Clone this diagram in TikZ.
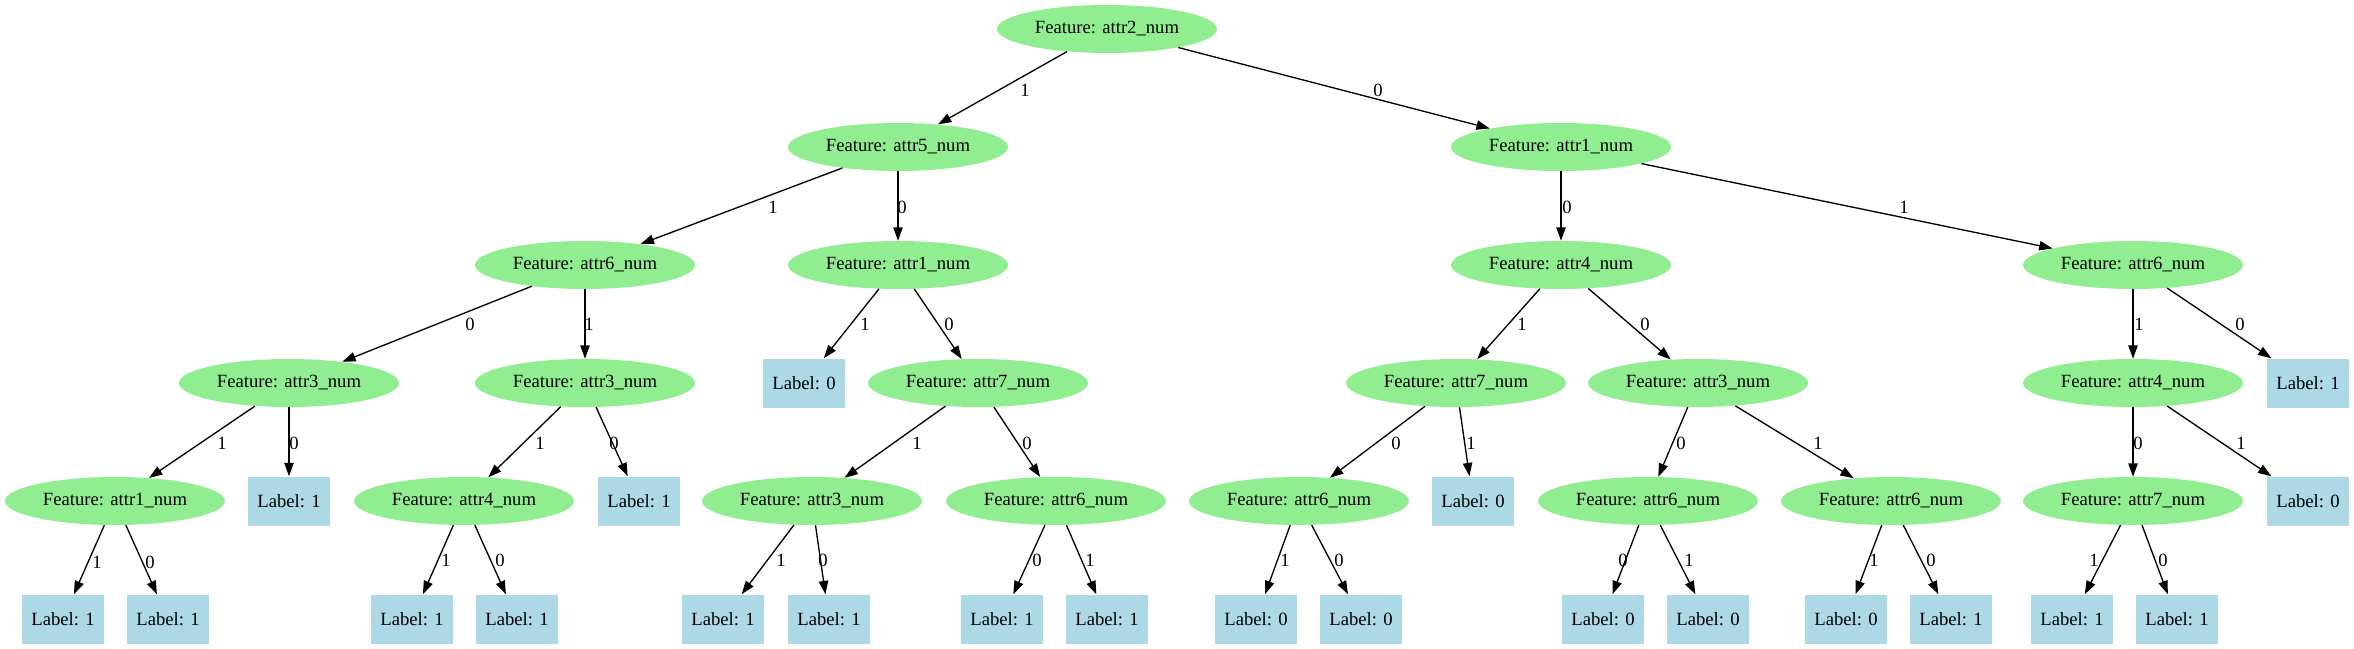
\documentclass[tikz,border=0pt]{standalone}
\usepackage{fontspec}
\setmainfont{Liberation Serif}
\usetikzlibrary{arrows.meta,shapes.geometric}
\definecolor{featgreen}{HTML}{90EE90}
\definecolor{leafblue}{HTML}{ADD8E6}
\begin{document}
\begin{tikzpicture}[x=0.75pt,y=-0.75pt,
  feat/.style={ellipse, fill=featgreen, minimum width=165pt, minimum height=36pt, inner sep=0pt, font=\fontsize{14}{16}\selectfont},
  leaf/.style={rectangle, fill=leafblue, minimum width=61.5pt, minimum height=36.75pt, inner sep=0pt, font=\fontsize{14}{16}\selectfont},
  lbl/.style={inner sep=0pt, font=\fontsize{14}{16}\selectfont},
  edge/.style={-{Triangle[length=10pt,width=7pt]}, line width=1pt}]
\useasboundingbox (0,0) rectangle (2354,649);
% level 0
\node[feat] (root) at (1107,29) {Feature: attr2\_num};
% level 1
\node[feat] (a5) at (898,147) {Feature: attr5\_num};
\node[feat] (a1R) at (1561,147) {Feature: attr1\_num};
% level 2
\node[feat] (a6L) at (585,265) {Feature: attr6\_num};
\node[feat] (a1M) at (898,265) {Feature: attr1\_num};
\node[feat] (a4R) at (1561,265) {Feature: attr4\_num};
\node[feat] (a6R) at (2133,265) {Feature: attr6\_num};
% level 3
\node[feat] (a3L) at (289,383) {Feature: attr3\_num};
\node[feat] (a3b) at (585,383) {Feature: attr3\_num};
\node[leaf] (L0a) at (804,383) {Label: 0};
\node[feat] (a7M) at (978,383) {Feature: attr7\_num};
\node[feat] (a7R) at (1456,383) {Feature: attr7\_num};
\node[feat] (a3R) at (1698,383) {Feature: attr3\_num};
\node[feat] (a4RR) at (2133,383) {Feature: attr4\_num};
\node[leaf] (L1r) at (2308,383) {Label: 1};
% level 4
\node[feat] (a1) at (115,501) {Feature: attr1\_num};
\node[leaf] (L1b) at (289,501) {Label: 1};
\node[feat] (a4) at (464,501) {Feature: attr4\_num};
\node[leaf] (L1c) at (639,501) {Label: 1};
\node[feat] (a3) at (812,501) {Feature: attr3\_num};
\node[feat] (a6) at (1056,501) {Feature: attr6\_num};
\node[feat] (a6b) at (1299,501) {Feature: attr6\_num};
\node[leaf] (L0b) at (1473,501) {Label: 0};
\node[feat] (a6c) at (1648,501) {Feature: attr6\_num};
\node[feat] (a6d) at (1891,501) {Feature: attr6\_num};
\node[feat] (a7) at (2133,501) {Feature: attr7\_num};
\node[leaf] (L0c) at (2308,501) {Label: 0};
% level 5
\node[leaf] (b1) at (63,619) {Label: 1};
\node[leaf] (b2) at (168,619) {Label: 1};
\node[leaf] (b3) at (412,619) {Label: 1};
\node[leaf] (b4) at (517,619) {Label: 1};
\node[leaf] (b5) at (723,619) {Label: 1};
\node[leaf] (b6) at (829,619) {Label: 1};
\node[leaf] (b7) at (1002,619) {Label: 1};
\node[leaf] (b8) at (1107,619) {Label: 1};
\node[leaf] (b9) at (1256,619) {Label: 0};
\node[leaf] (b10) at (1361,619) {Label: 0};
\node[leaf] (b11) at (1603,619) {Label: 0};
\node[leaf] (b12) at (1708,619) {Label: 0};
\node[leaf] (b13) at (1846,619) {Label: 0};
\node[leaf] (b14) at (1951,619) {Label: 1};
\node[leaf] (b15) at (2072,619) {Label: 1};
\node[leaf] (b16) at (2177,619) {Label: 1};
% edges
\draw[edge] (root) -- (a5);
\draw[edge] (root) -- (a1R);
\draw[edge] (a5) -- (a6L);
\draw[edge] (a5) -- (a1M);
\draw[edge] (a1R) -- (a4R);
\draw[edge] (a1R) -- (a6R);
\draw[edge] (a6L) -- (a3L);
\draw[edge] (a6L) -- (a3b);
\draw[edge] (a1M) -- (L0a);
\draw[edge] (a1M) -- (a7M);
\draw[edge] (a4R) -- (a7R);
\draw[edge] (a4R) -- (a3R);
\draw[edge] (a6R) -- (a4RR);
\draw[edge] (a6R) -- (L1r);
\draw[edge] (a3L) -- (a1);
\draw[edge] (a3L) -- (L1b);
\draw[edge] (a3b) -- (a4);
\draw[edge] (a3b) -- (L1c);
\draw[edge] (a7M) -- (a3);
\draw[edge] (a7M) -- (a6);
\draw[edge] (a7R) -- (a6b);
\draw[edge] (a7R) -- (L0b);
\draw[edge] (a3R) -- (a6c);
\draw[edge] (a3R) -- (a6d);
\draw[edge] (a4RR) -- (a7);
\draw[edge] (a4RR) -- (L0c);
\draw[edge] (a1) -- (b1);
\draw[edge] (a1) -- (b2);
\draw[edge] (a4) -- (b3);
\draw[edge] (a4) -- (b4);
\draw[edge] (a3) -- (b5);
\draw[edge] (a3) -- (b6);
\draw[edge] (a6) -- (b7);
\draw[edge] (a6) -- (b8);
\draw[edge] (a6b) -- (b9);
\draw[edge] (a6b) -- (b10);
\draw[edge] (a6c) -- (b11);
\draw[edge] (a6c) -- (b12);
\draw[edge] (a6d) -- (b13);
\draw[edge] (a6d) -- (b14);
\draw[edge] (a7) -- (b15);
\draw[edge] (a7) -- (b16);
% edge labels
\node[lbl] (e1) at (1025,90) {1};
\node[lbl] (e2) at (1378,90) {0};
\node[lbl] (e3) at (773,207) {1};
\node[lbl] (e4) at (902,207) {0};
\node[lbl] (e5) at (1567,207) {0};
\node[lbl] (e6) at (1904,207) {1};
\node[lbl] (e7) at (470,324) {0};
\node[lbl] (e8) at (589,324) {1};
\node[lbl] (e9) at (865,324) {1};
\node[lbl] (e10) at (949,324) {0};
\node[lbl] (e11) at (1522,324) {1};
\node[lbl] (e12) at (1645,324) {0};
\node[lbl] (e13) at (2139,324) {1};
\node[lbl] (e14) at (2240,324) {0};
\node[lbl] (e15) at (222,443) {1};
\node[lbl] (e16) at (294,443) {0};
\node[lbl] (e17) at (540,443) {1};
\node[lbl] (e18) at (614,443) {0};
\node[lbl] (e19) at (917,443) {1};
\node[lbl] (e20) at (1027,443) {0};
\node[lbl] (e21) at (1396,443) {0};
\node[lbl] (e22) at (1471,443) {1};
\node[lbl] (e23) at (1681,443) {0};
\node[lbl] (e24) at (1818,443) {1};
\node[lbl] (e25) at (2138,443) {0};
\node[lbl] (e26) at (2241,443) {1};
\node[lbl] (e27) at (97,562) {1};
\node[lbl] (e28) at (150,562) {0};
\node[lbl] (e29) at (446,560) {1};
\node[lbl] (e30) at (500,560) {0};
\node[lbl] (e31) at (781,560) {1};
\node[lbl] (e32) at (823,560) {0};
\node[lbl] (e33) at (1037,560) {0};
\node[lbl] (e34) at (1090,560) {1};
\node[lbl] (e35) at (1285,560) {1};
\node[lbl] (e36) at (1339,560) {0};
\node[lbl] (e37) at (1623,560) {0};
\node[lbl] (e38) at (1689,560) {1};
\node[lbl] (e39) at (1874,560) {1};
\node[lbl] (e40) at (1931,560) {0};
\node[lbl] (e41) at (2094,560) {1};
\node[lbl] (e42) at (2163,560) {0};
\end{tikzpicture}
\end{document}
